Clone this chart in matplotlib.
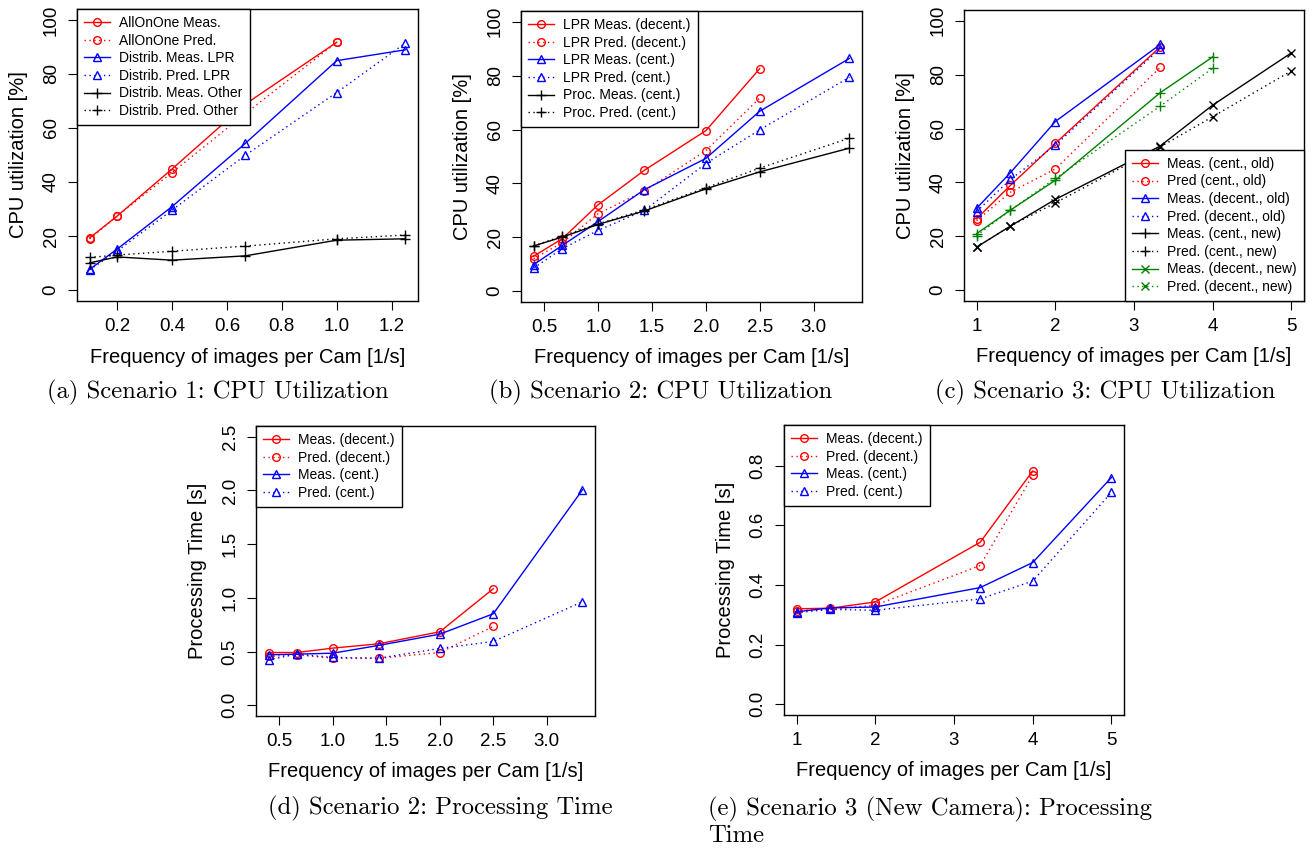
import matplotlib
matplotlib.use("Agg")
import matplotlib.pyplot as plt
from matplotlib.lines import Line2D

plt.rcParams['font.family'] = ['Liberation Sans', 'DejaVu Sans']

# ---------------- data ----------------
# (a) Scenario 1
a_freq = [0.1, 0.2, 0.4, 0.667, 1.0, 1.25]
a_allone_meas = [19.3, 27.4, 44.8, 68.8, 91.7]
a_allone_pred = [19.0, 27.4, 43.5, 65.3, 91.7]
a_lpr_meas = [7.7, 15.2, 30.9, 54.3, 84.9, 88.9]
a_lpr_pred = [7.5, 14.5, 29.6, 49.9, 73.1, 91.4]
a_other_meas = [10.1, 12.3, 11.1, 12.7, 18.5, 19.0]
a_other_pred = [12.1, 13.0, 14.4, 16.3, 19.0, 20.4]

# (b) Scenario 2 CPU
b_freq = [0.4, 0.667, 1.0, 1.429, 2.0, 2.5, 3.333]
b_lpr_dec_meas = [13.0, 19.5, 32.1, 44.9, 59.6, 82.6]
b_lpr_dec_pred = [12.1, 18.0, 28.8, 37.2, 52.2, 71.7]
b_lpr_cen_meas = [9.9, 17.0, 25.9, 37.7, 49.3, 66.8, 86.4]
b_lpr_cen_pred = [8.6, 15.8, 22.6, 30.0, 47.4, 59.9, 79.4]
b_proc_meas = [16.8, 20.1, 24.8, 29.8, 38.0, 44.3, 53.1]
b_proc_pred = [16.8, 20.5, 25.0, 30.2, 38.4, 45.7, 56.8]

# (c) Scenario 3 CPU
c_freq = [1.0, 1.429, 2.0, 3.333, 4.0, 5.0]
c_cen_old_meas = [26.5, 38.9, 54.5, 90.3]
c_cen_old_pred = [25.8, 36.4, 45.0, 82.7]
c_dec_old_meas = [30.4, 43.6, 62.6, 91.2]
c_dec_old_pred = [29.2, 41.1, 53.8, 89.7]
c_cen_new_meas = [16.0, 23.8, 33.7, 53.5, 68.7, 88.1]
c_cen_new_pred = [16.0, 23.8, 32.4, 53.2, 64.4, 81.4]
c_dec_new_meas = [21.0, 29.7, 40.8, 73.3, 86.6]
c_dec_new_pred = [20.3, 29.7, 41.5, 68.3, 82.4]

# (d) Scenario 2 processing time
d_freq = [0.4, 0.667, 1.0, 1.429, 2.0, 2.5, 3.333]
d_dec_meas = [0.491, 0.491, 0.532, 0.572, 0.684, 1.085]
d_dec_pred = [0.454, 0.470, 0.438, 0.438, 0.491, 0.734]
d_cen_meas = [0.470, 0.476, 0.485, 0.557, 0.662, 0.852, 2.006]
d_cen_pred = [0.423, 0.476, 0.445, 0.438, 0.529, 0.594, 0.964]

# (e) Scenario 3 processing time
e_freq = [1.0, 1.429, 2.0, 3.333, 4.0, 5.0]
e_dec_meas = [0.320, 0.322, 0.343, 0.543, 0.782]
e_dec_pred = [0.314, 0.318, 0.332, 0.465, 0.767]
e_cen_meas = [0.310, 0.323, 0.326, 0.391, 0.475, 0.760]
e_cen_pred = [0.307, 0.318, 0.315, 0.353, 0.413, 0.710]

captions = ["(a) Scenario 1: CPU Utilization",
            "(b) Scenario 2: CPU Utilization",
            "(c) Scenario 3: CPU Utilization",
            "(d) Scenario 2: Processing Time",
            "(e) Scenario 3 (New Camera): Processing\nTime"]

XLABEL = "Frequency of images per Cam [1/s]"

# ---------------- style ----------------
W, H = 1315, 849
fig = plt.figure(figsize=(W / 100, H / 100), dpi=100)

RED, BLUE, BLACK, GREEN = '#FF0000', '#0000FF', '#000000', '#008000'
SOLID = '-'
DOT = (0, (1, 2.5))
MSIZE = {'o': 5.5, '^': 6.3, '+': 7.3, 'x': 6.0}
LW = 1.0
TICK_FS = 13.5
LAB_FS = 14.5
LEG_FS = 10
CAP_FS = 17.8


def px_axes(l, t, r, b):
    return fig.add_axes([l / W, 1 - b / H, (r - l) / W, (b - t) / H])


def style(ax, xticks, xlabels, yticks, ylabels, ylabel):
    ax.set_xticks(xticks)
    ax.set_xticklabels(xlabels, fontsize=TICK_FS)
    ax.set_yticks(yticks)
    ax.set_yticklabels(ylabels, fontsize=TICK_FS, rotation=90, va='center')
    ax.tick_params(direction='out', length=6.5, width=0.8, pad=6)
    for s in ax.spines.values():
        s.set_linewidth(1.0)
    ax.set_xlabel(XLABEL, fontsize=LAB_FS, va='center')
    ax.xaxis.set_label_coords(0.5, -0.192)
    ax.set_ylabel(ylabel, fontsize=LAB_FS, va='center')
    ax.yaxis.set_label_coords(-0.172, 0.5)


def line(color, ls, marker, label=None):
    return dict(color=color, linestyle=ls, marker=marker, ms=MSIZE[marker],
                mfc='none', mew=1.0, lw=LW, label=label)


def series(ax, x, y, color, ls, marker, label=None):
    ax.plot(x[:len(y)], y, **line(color, ls, marker, label))


def legend(ax, loc, handles=None):
    kw = dict(loc=loc, fontsize=LEG_FS, frameon=True, fancybox=False,
              borderaxespad=0, numpoints=1, handlelength=1.9,
              handletextpad=0.65, labelspacing=0.26, borderpad=0.5)
    if handles is not None:
        lg = ax.legend(handles=handles, **kw)
    else:
        lg = ax.legend(**kw)
    lg.get_frame().set_edgecolor('black')
    lg.get_frame().set_linewidth(1.0)
    lg.get_frame().set_alpha(1)


cpu_ticks = [0, 20, 40, 60, 80, 100]
cpu_labels = [str(v) for v in cpu_ticks]

# (a)
ax = px_axes(77, 9, 418, 301)
series(ax, a_freq, a_allone_meas, RED, SOLID, 'o', 'AllOnOne Meas.')
series(ax, a_freq, a_allone_pred, RED, DOT, 'o', 'AllOnOne Pred.')
series(ax, a_freq, a_lpr_meas, BLUE, SOLID, '^', 'Distrib. Meas. LPR')
series(ax, a_freq, a_lpr_pred, BLUE, DOT, '^', 'Distrib. Pred. LPR')
series(ax, a_freq, a_other_meas, BLACK, SOLID, '+', 'Distrib. Meas. Other')
series(ax, a_freq, a_other_pred, BLACK, DOT, '+', 'Distrib. Pred. Other')
ax.set_xlim(0.054, 1.296)
ax.set_ylim(-4, 104)
xt = [0.2, 0.4, 0.6, 0.8, 1.0, 1.2]
style(ax, xt, ["%.1f" % v for v in xt], cpu_ticks, cpu_labels, "CPU utilization [%]")
legend(ax, 'upper left')

# (b)
ax = px_axes(521, 11, 862, 302)
series(ax, b_freq, b_lpr_dec_meas, RED, SOLID, 'o', 'LPR Meas. (decent.)')
series(ax, b_freq, b_lpr_dec_pred, RED, DOT, 'o', 'LPR Pred. (decent.)')
series(ax, b_freq, b_lpr_cen_meas, BLUE, SOLID, '^', 'LPR Meas. (cent.)')
series(ax, b_freq, b_lpr_cen_pred, BLUE, DOT, '^', 'LPR Pred. (cent.)')
series(ax, b_freq, b_proc_meas, BLACK, SOLID, '+', 'Proc. Meas. (cent.)')
series(ax, b_freq, b_proc_pred, BLACK, DOT, '+', 'Proc. Pred. (cent.)')
ax.set_xlim(0.283, 3.45)
ax.set_ylim(-4, 104)
xt = [0.5, 1.0, 1.5, 2.0, 2.5, 3.0]
style(ax, xt, ["%.1f" % v for v in xt], cpu_ticks, cpu_labels, "CPU utilization [%]")
legend(ax, 'upper left')

# (c)
ax = px_axes(964, 10, 1304, 301)
series(ax, c_freq, c_cen_old_meas, RED, SOLID, 'o')
series(ax, c_freq, c_cen_old_pred, RED, DOT, 'o')
series(ax, c_freq, c_dec_old_meas, BLUE, SOLID, '^')
series(ax, c_freq, c_dec_old_pred, BLUE, DOT, '^')
series(ax, c_freq, c_cen_new_meas, BLACK, SOLID, 'x')
series(ax, c_freq, c_cen_new_pred, BLACK, DOT, 'x')
series(ax, c_freq, c_dec_new_meas, GREEN, SOLID, '+')
series(ax, c_freq, c_dec_new_pred, GREEN, DOT, '+')
ax.set_xlim(0.84, 5.16)
ax.set_ylim(-4, 104)
xt = [1, 2, 3, 4, 5]
style(ax, xt, [str(v) for v in xt], cpu_ticks, cpu_labels, "CPU utilization [%]")
c_handles = [Line2D([], [], **line(col, ls, mk, lab)) for col, ls, mk, lab in [
    (RED, SOLID, 'o', 'Meas. (cent., old)'),
    (RED, DOT, 'o', 'Pred (cent., old)'),
    (BLUE, SOLID, '^', 'Meas. (decent., old)'),
    (BLUE, DOT, '^', 'Pred. (decent., old)'),
    (BLACK, SOLID, '+', 'Meas. (cent., new)'),
    (BLACK, DOT, '+', 'Pred. (cent., new)'),
    (GREEN, SOLID, 'x', 'Meas. (decent., new)'),
    (GREEN, DOT, 'x', 'Pred. (decent., new)')]]
legend(ax, 'lower right', c_handles)

# (d)
ax = px_axes(256, 426, 595, 716)
series(ax, d_freq, d_dec_meas, RED, SOLID, 'o', 'Meas. (decent.)')
series(ax, d_freq, d_dec_pred, RED, DOT, 'o', 'Pred. (decent.)')
series(ax, d_freq, d_cen_meas, BLUE, SOLID, '^', 'Meas. (cent.)')
series(ax, d_freq, d_cen_pred, BLUE, DOT, '^', 'Pred. (cent.)')
ax.set_xlim(0.283, 3.45)
ax.set_ylim(-0.1, 2.6)
xt = [0.5, 1.0, 1.5, 2.0, 2.5, 3.0]
yt = [0.0, 0.5, 1.0, 1.5, 2.0, 2.5]
style(ax, xt, ["%.1f" % v for v in xt], yt, ["%.1f" % v for v in yt], "Processing Time [s]")
legend(ax, 'upper left')

# (e)
ax = px_axes(784, 425, 1124, 715)
series(ax, e_freq, e_dec_meas, RED, SOLID, 'o', 'Meas. (decent.)')
series(ax, e_freq, e_dec_pred, RED, DOT, 'o', 'Pred. (decent.)')
series(ax, e_freq, e_cen_meas, BLUE, SOLID, '^', 'Meas. (cent.)')
series(ax, e_freq, e_cen_pred, BLUE, DOT, '^', 'Pred. (cent.)')
ax.set_xlim(0.84, 5.16)
ax.set_ylim(-0.036, 0.936)
xt = [1, 2, 3, 4, 5]
yt = [0.0, 0.2, 0.4, 0.6, 0.8]
style(ax, xt, [str(v) for v in xt], yt, ["%.1f" % v for v in yt], "Processing Time [s]")
legend(ax, 'upper left')

# captions
cap_pos = [(218, 392, 'center'), (661, 392, 'center'), (1105, 392, 'center'),
           (440, 808, 'center'), (708, 822, 'left')]
for (x, y, ha), txt in zip(cap_pos, captions):
    fig.text(x / W, 1 - y / H, txt, ha=ha, va='center', fontsize=CAP_FS,
             family=['cmr10', 'DejaVu Serif'], linespacing=1.2)

fig.savefig("out.png", dpi=100)
